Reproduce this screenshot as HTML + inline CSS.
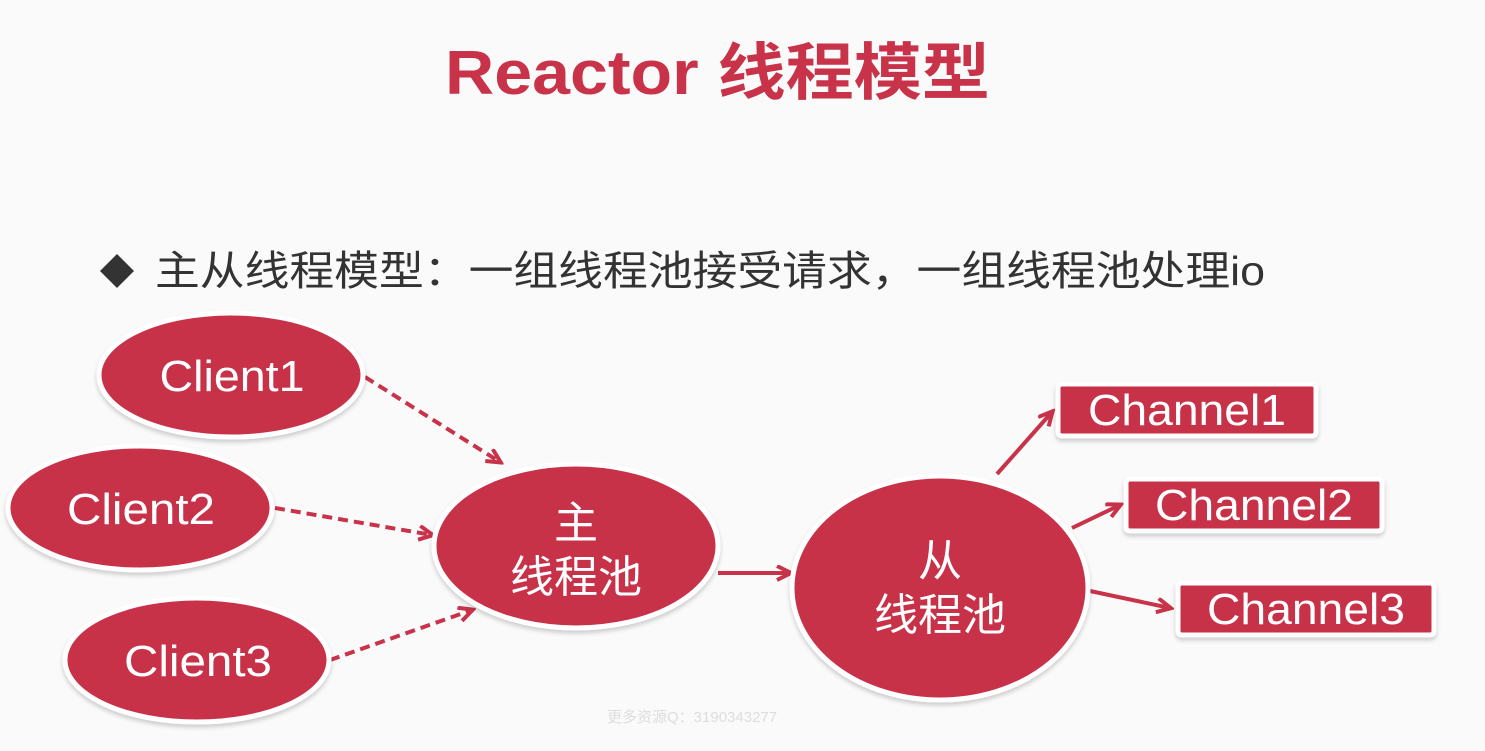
<!DOCTYPE html>
<html><head><meta charset="utf-8"><style>
html,body{margin:0;padding:0;background:#fafafa;}
svg{display:block}
</style></head><body>
<svg width="1485" height="751" viewBox="0 0 1485 751" xmlns="http://www.w3.org/2000/svg" font-family="'Liberation Sans','Noto Sans CJK SC',sans-serif">
<defs>
<marker id="ah" markerWidth="18" markerHeight="18" refX="14" refY="8" orient="auto" markerUnits="userSpaceOnUse">
<path d="M1,1 L15,8 L1,15" fill="none" stroke="#c8334a" stroke-width="4"/>
</marker>
<filter id="sh" x="-10%" y="-10%" width="120%" height="130%"><feDropShadow dx="0" dy="3" stdDeviation="2" flood-color="#000" flood-opacity="0.18"/></filter>
</defs>
<rect width="1485" height="751" fill="#fafafa"/>
<text x="445" y="94" font-size="62" font-weight="bold" fill="#c8334a" textLength="545" lengthAdjust="spacingAndGlyphs">Reactor 线程模型</text>
<path d="M100,271 L117,254 L134,271 L117,288 Z" fill="#333"/>
<text x="155" y="285" font-size="41" fill="#333" textLength="1110" lengthAdjust="spacingAndGlyphs">主从线程模型：一组线程池接受请求，一组线程池处理io</text>

<g stroke="#c8334a" stroke-width="4" fill="none">
<line x1="365" y1="377" x2="500" y2="462" stroke-dasharray="10,6" marker-end="url(#ah)"/>
<line x1="275" y1="508" x2="432" y2="535" stroke-dasharray="10,6" marker-end="url(#ah)"/>
<line x1="330" y1="660" x2="472" y2="610" stroke-dasharray="10,6" marker-end="url(#ah)"/>
<line x1="718" y1="573" x2="790" y2="573" marker-end="url(#ah)"/>
<line x1="997" y1="474" x2="1052" y2="412" marker-end="url(#ah)"/>
<line x1="1072" y1="528" x2="1120" y2="505" marker-end="url(#ah)"/>
<line x1="1090" y1="591" x2="1170" y2="608" marker-end="url(#ah)"/>
</g>

<g fill="#c8334a" stroke="#fff" stroke-width="5" filter="url(#sh)">
<ellipse cx="231" cy="375" rx="132" ry="62"/>
<ellipse cx="140" cy="508" rx="132" ry="62"/>
<ellipse cx="197" cy="660" rx="132" ry="62"/>
<ellipse cx="576" cy="546" rx="142" ry="82"/>
<ellipse cx="940" cy="588" rx="148" ry="112"/>
<rect x="1058" y="384" width="258" height="52" rx="4"/>
<rect x="1126" y="479" width="256" height="52" rx="4"/>
<rect x="1178" y="583" width="256" height="52" rx="4"/>
</g>
<g fill="#fff" font-size="44" text-anchor="middle">
<text x="232" y="391" textLength="145" lengthAdjust="spacingAndGlyphs">Client1</text>
<text x="141" y="524" textLength="148" lengthAdjust="spacingAndGlyphs">Client2</text>
<text x="198" y="676" textLength="148" lengthAdjust="spacingAndGlyphs">Client3</text>
<text x="576" y="538">主</text>
<text x="576" y="592">线程池</text>
<text x="940" y="576">从</text>
<text x="940" y="630">线程池</text>
<text x="1187" y="425" textLength="198" lengthAdjust="spacingAndGlyphs">Channel1</text>
<text x="1254" y="520" textLength="198" lengthAdjust="spacingAndGlyphs">Channel2</text>
<text x="1306" y="624" textLength="198" lengthAdjust="spacingAndGlyphs">Channel3</text>
</g>
<text x="607" y="722" font-size="15" fill="#ddd">更多资源Q：3190343277</text>
</svg>
</body></html>
